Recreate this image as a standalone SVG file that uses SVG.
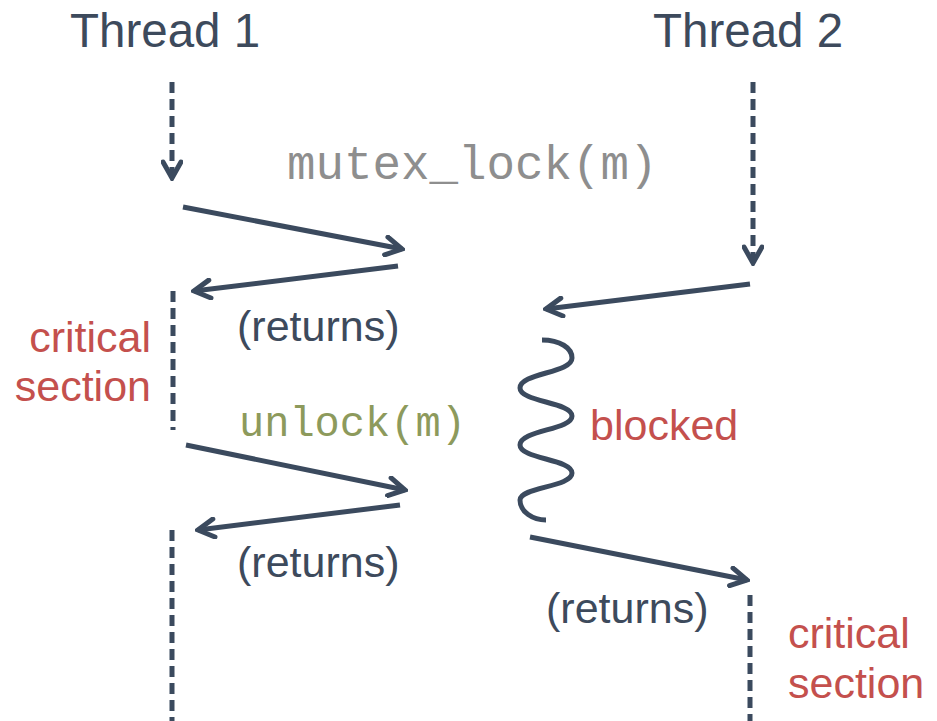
<svg xmlns="http://www.w3.org/2000/svg" width="937" height="721" viewBox="0 0 937 721">
  <style>
    .title { font-family: "Liberation Sans", Arial, sans-serif; font-size: 47.5px; fill: #3d4a5c; }
    .label { font-family: "Liberation Sans", Arial, sans-serif; font-size: 43px; fill: #3d4a5c; }
    .crit { font-family: "Liberation Sans", Arial, sans-serif; font-size: 43px; fill: #c4504d; }
    .code { font-family: "Liberation Mono", "Courier New", monospace; }
    .line { stroke: #3b4a5e; stroke-width: 5; fill: none; stroke-linecap: butt; }
    .dash { stroke: #3b4a5e; stroke-width: 5; fill: none; stroke-dasharray: 11 6; }
    .call { marker-end: url(#head); }
  </style>
  <defs>
    <marker id="head" viewBox="0 0 22 22" refX="19" refY="11" markerWidth="22" markerHeight="22" markerUnits="userSpaceOnUse" orient="auto">
      <path d="M3,2 L19,11 L3,20" fill="none" stroke="#3b4a5e" stroke-width="5" stroke-linecap="round" stroke-linejoin="miter"/>
    </marker>
  </defs>

  <!-- thread headings -->
  <g id="thread1">
    <text class="title" x="70" y="47">Thread 1</text>
  </g>
  <g id="thread2">
    <text class="title" x="653" y="47">Thread 2</text>
  </g>

  <!-- call labels -->
  <g id="lock-call">
    <text class="code" x="287" y="179" font-size="47.5" fill="#8e8e8e">mutex_lock(m)</text>
  </g>
  <g id="unlock-call">
    <text class="code" x="239" y="436" font-size="42" fill="#8d9a5c">unlock(m)</text>
  </g>
  <g id="returns1">
    <text class="label" x="237" y="341">(returns)</text>
  </g>
  <g id="returns2">
    <text class="label" x="237" y="577">(returns)</text>
  </g>
  <g id="returns3">
    <text class="label" x="546" y="623">(returns)</text>
  </g>
  <g id="critical1">
    <text class="crit" x="151" y="352" text-anchor="end">critical</text>
    <text class="crit" x="151" y="401" text-anchor="end">section</text>
  </g>
  <g id="critical2">
    <text class="crit" x="788" y="648">critical</text>
    <text class="crit" x="788" y="698">section</text>
  </g>
  <g id="blocked">
    <text class="crit" x="590" y="440" font-size="44">blocked</text>
  </g>

  <!-- timelines and calls -->
  <g id="connectors">
    <!-- thread 1 timeline -->
    <path class="dash call" d="M172,82 V178"/>
    <path class="dash" d="M173,291 V430"/>
    <path class="dash" d="M172,530 V721"/>
    <!-- thread 2 timeline -->
    <path class="dash call" d="M753,82 V263"/>
    <path class="dash" d="M750,595 V721"/>

    <!-- thread 1: lock and unlock round trips -->
    <path class="line call" d="M183,207 L402,249"/>
    <path class="line call" d="M398,266 L194,291"/>
    <path class="line call" d="M186,445 L405,490"/>
    <path class="line call" d="M400,505 L198,530"/>

    <!-- thread 2: lock attempt, wait, and return -->
    <path class="line call" d="M750,284 L546,309"/>
    <path class="line" stroke-linecap="round" d="M542,340 C560,340 572,348 572,358 C572,373 520,373 520,388 C520,402 572,402 572,416 C572,430 520,430 520,445 C520,459 572,459 572,473 C572,487 520,487 520,500 C520,512 533,520 546,520"/>
    <path class="line call" d="M530,537 L747,580"/>
  </g>
</svg>
